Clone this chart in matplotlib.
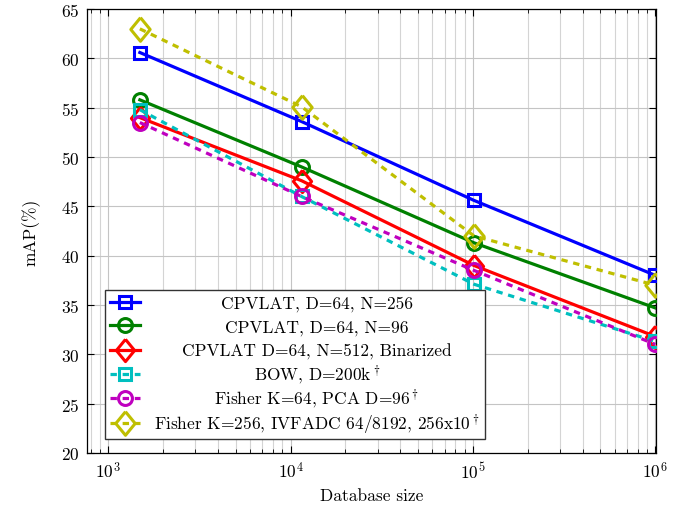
import matplotlib
matplotlib.use('Agg')

import matplotlib.pyplot as plt
from matplotlib.ticker import LogLocator, MultipleLocator, NullFormatter

plt.rcParams['font.family'] = 'serif'
plt.rcParams['font.serif'] = ['cmr10']
plt.rcParams['mathtext.fontset'] = 'cm'
plt.rcParams['axes.unicode_minus'] = False
plt.rcParams['axes.formatter.use_mathtext'] = True

# Database sizes (Holidays + distractors)
db_size = [1491, 11491, 101491, 1001491]

cpvlat_256 = [60.6, 53.6, 45.6, 38.0]
cpvlat_96 = [55.8, 49.0, 41.3, 34.7]
cpvlat_bin = [54.0, 47.6, 39.0, 31.8]
bow = [54.8, 46.0, 37.1, 31.3]
fisher_64 = [53.5, 46.0, 38.5, 31.0]
fisher_256 = [63.0, 55.1, 42.0, 37.0]

labels = [
    'CPVLAT, D=64, N=256',
    'CPVLAT, D=64, N=96',
    'CPVLAT D=64, N=512, Binarized',
    r'BOW, D=200k$^\dagger$',
    r'Fisher K=64, PCA D=96$^\dagger$',
    r'Fisher K=256, IVFADC 64/8192, 256x10$^\dagger$',
]
# plain stand-ins so every legend row gets the same height
layout_labels = [s.replace(r'$^\dagger$', 'ii') for s in labels]

diamond = [(0, 1), (0.82, 0), (0, -1), (-0.82, 0), (0, 1)]

fs = 12.5

fig = plt.figure(figsize=(6.92, 5.06), dpi=100)
ax = fig.add_axes([0.125, 0.103, 0.823, 0.877])

solid = '-'
dotted = (0, (2.0, 1.8))
lw = 2.3
mew = 2.2

ax.plot(db_size, cpvlat_256, color='#0000ff', ls=solid, lw=lw, marker='s', ms=8,
        mfc='none', mew=mew, label=layout_labels[0], zorder=5)
ax.plot(db_size, cpvlat_96, color='#008000', ls=solid, lw=lw, marker='o', ms=10,
        mfc='none', mew=mew, label=layout_labels[1], zorder=5)
ax.plot(db_size, cpvlat_bin, color='#ff0000', ls=solid, lw=lw, marker=diamond, ms=16,
        mfc='none', mew=mew, label=layout_labels[2], zorder=5)
ax.plot(db_size, bow, color='#00bfbf', ls=dotted, lw=lw, marker='s', ms=8,
        mfc='none', mew=mew, label=layout_labels[3], zorder=5)
ax.plot(db_size, fisher_64, color='#bf00bf', ls=dotted, lw=lw, marker='o', ms=10,
        mfc='none', mew=mew, label=layout_labels[4], zorder=5)
ax.plot(db_size, fisher_256, color='#bfbf00', ls=dotted, lw=lw, marker=diamond, ms=17,
        mfc='none', mew=mew, label=layout_labels[5], zorder=5)

ax.set_xscale('log')
ax.set_xlim(760, 1.01e6)
ax.set_ylim(20, 65)
ax.yaxis.set_major_locator(MultipleLocator(5))
ax.xaxis.set_major_locator(LogLocator(base=10, numticks=10))
ax.xaxis.set_minor_locator(LogLocator(base=10, subs=range(2, 10), numticks=20))
ax.xaxis.set_minor_formatter(NullFormatter())

ax.grid(True, which='major', color='#c4c4c4', lw=0.8, zorder=0)
ax.grid(True, which='minor', axis='x', color='#d4d4d4', lw=0.8, zorder=0)
ax.tick_params(which='both', direction='in', top=True, right=True, labelsize=fs)
ax.tick_params(which='major', length=5, pad=5)
ax.tick_params(which='minor', length=3)
for sp in ax.spines.values():
    sp.set_linewidth(0.9)

ax.set_xlabel('Database size', fontsize=fs, labelpad=5)
ax.set_ylabel('mAP(%)', fontsize=fs, labelpad=15)

leg = ax.legend(loc='lower left', bbox_to_anchor=(0.032, 0.032), borderaxespad=0,
                fontsize=fs, fancybox=False, framealpha=1, edgecolor='#333333',
                handlelength=1.75, labelspacing=0.47, borderpad=0.3, handletextpad=0.8)
leg.get_frame().set_linewidth(1.0)

# centre the legend labels within their column
fig.canvas.draw()
renderer = fig.canvas.get_renderer()
texts = leg.get_texts()
boxes = [t.get_window_extent(renderer) for t in texts]
x_mid = (min(b.x0 for b in boxes) + max(b.x1 for b in boxes)) / 2
for t, label in zip(texts, labels):
    _, y = t.get_transform().transform(t.get_position())
    t.set_visible(False)
    fx, fy = fig.transFigure.inverted().transform((x_mid, y))
    fig.text(fx, fy, label, ha='center', va='baseline', fontsize=fs, zorder=10)

fig.savefig('out.png', dpi=100)
